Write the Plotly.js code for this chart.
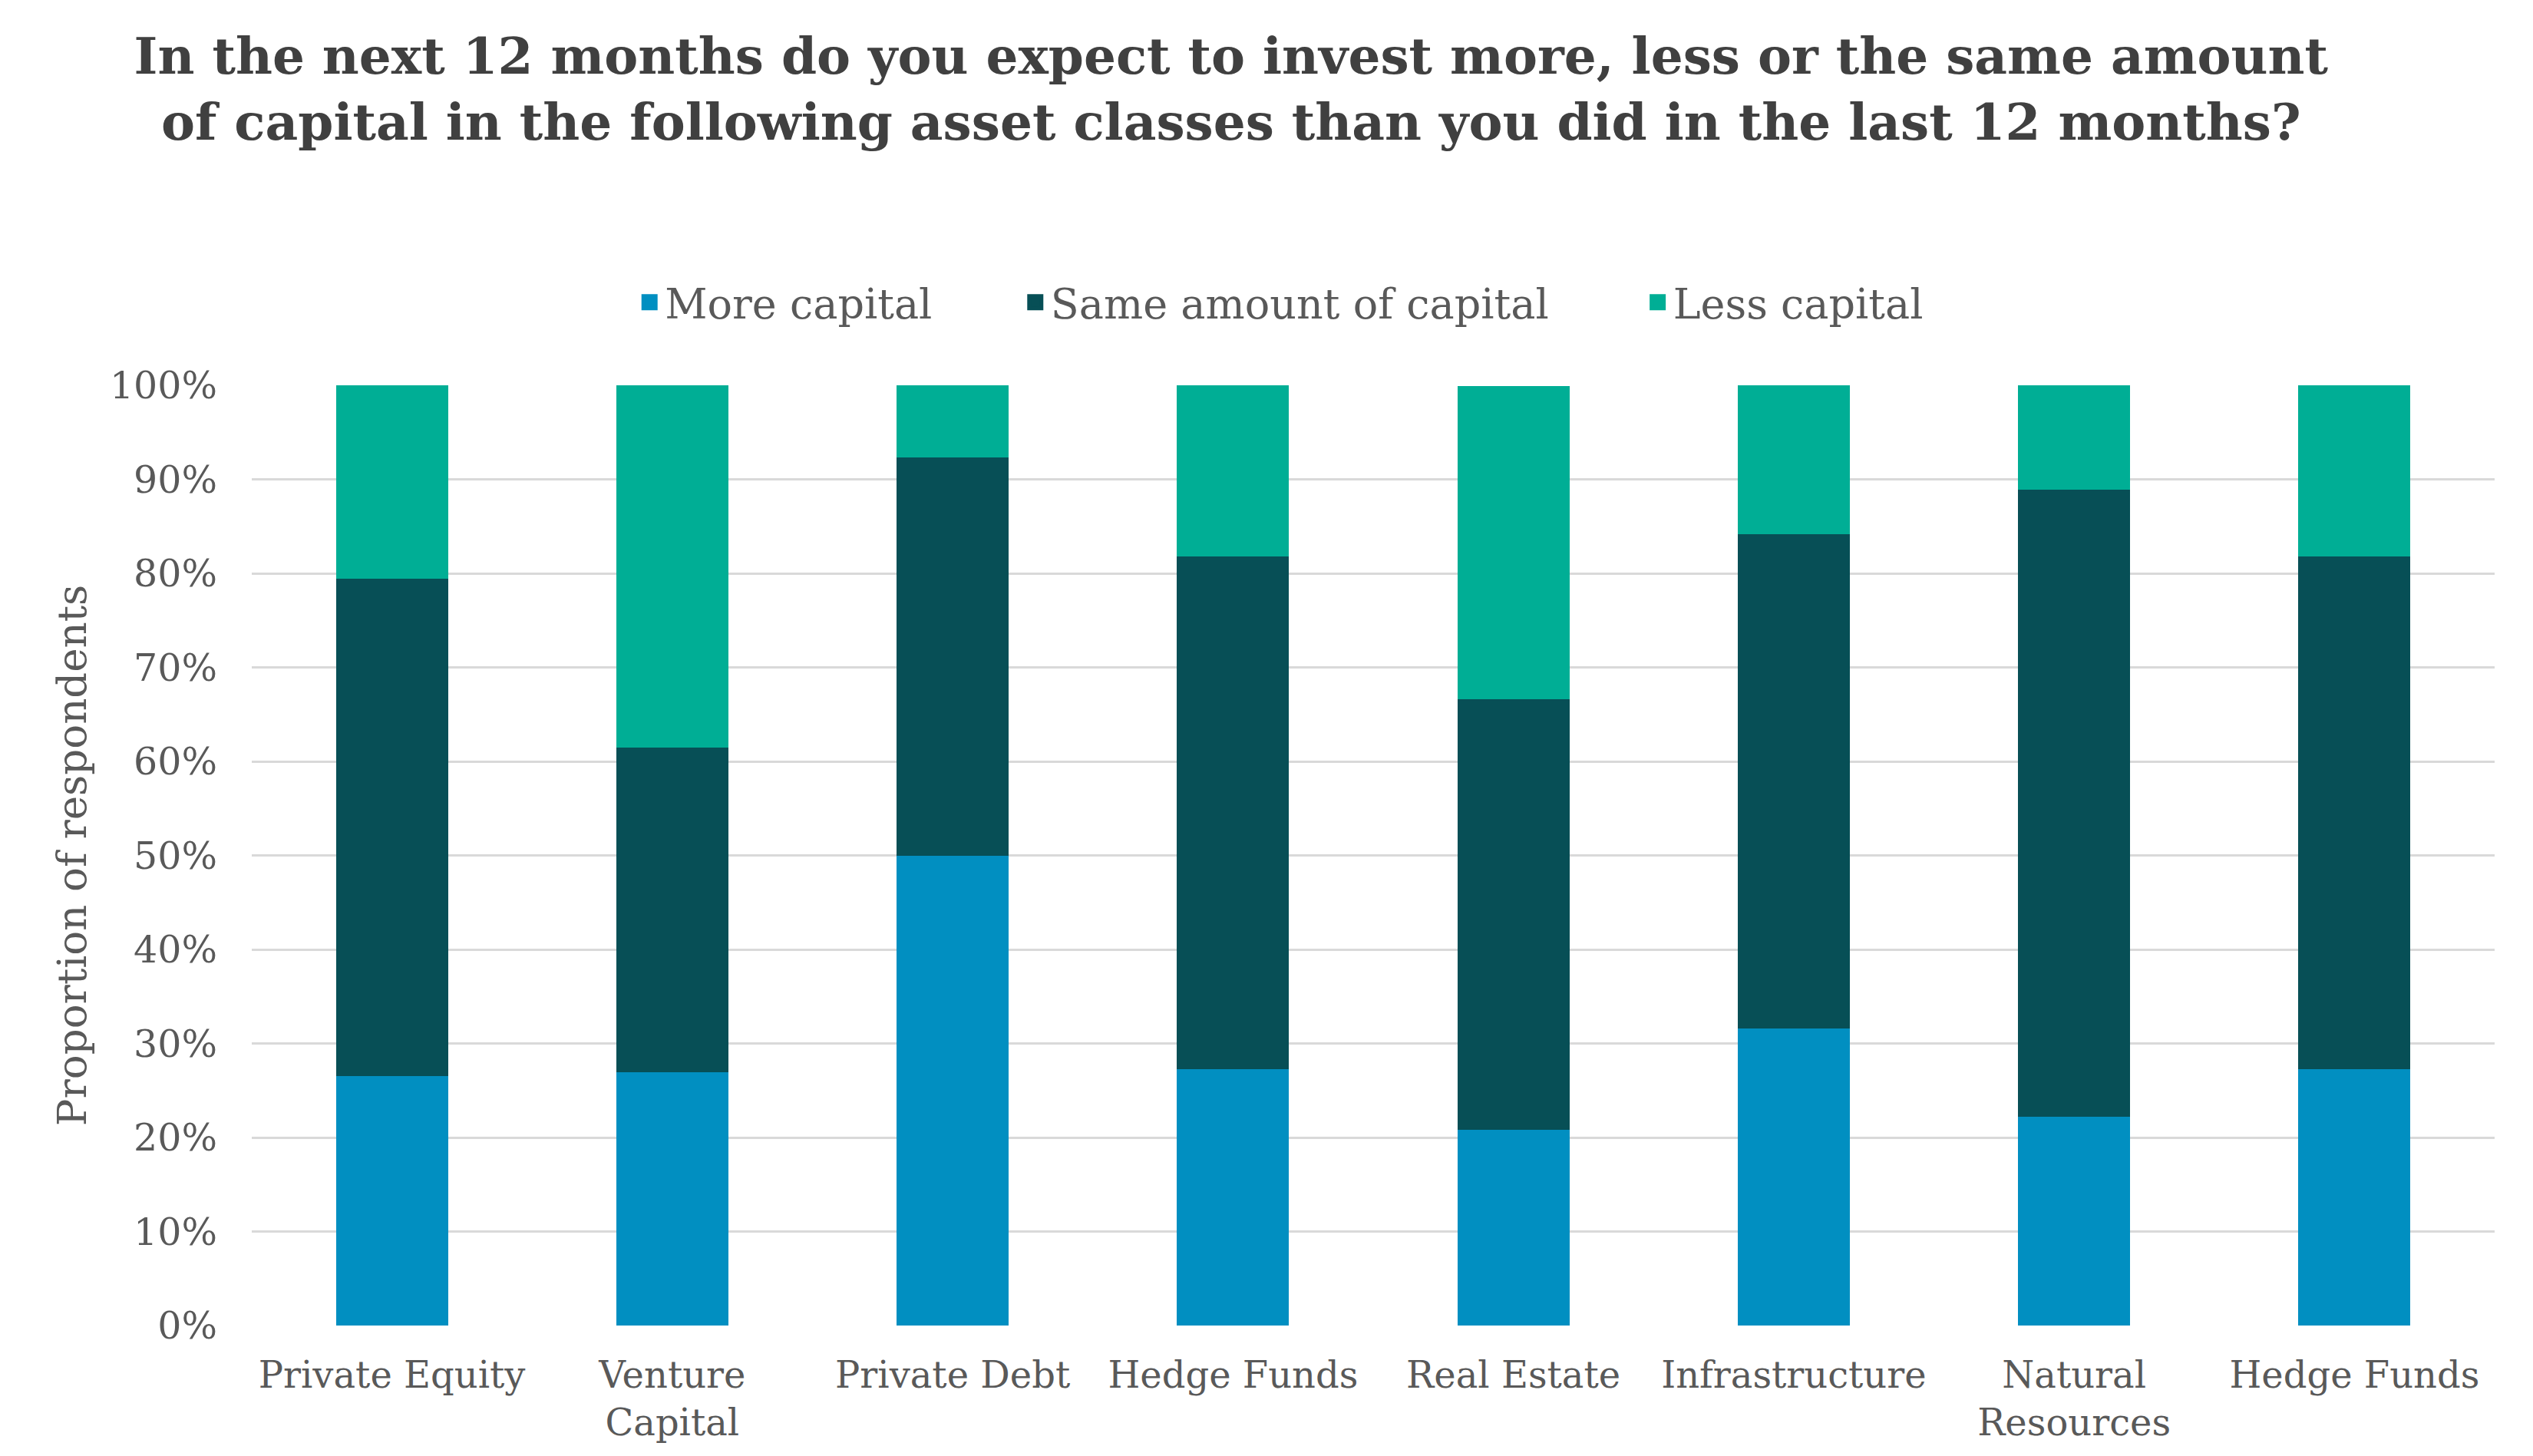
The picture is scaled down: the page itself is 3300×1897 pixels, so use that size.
<!DOCTYPE html>
<html><head><meta charset="utf-8">
<script src="https://cdn.plot.ly/plotly-3.0.1.min.js"></script>
<style>html,body{margin:0;padding:0;background:#fff;}#chart{width:3300px;height:1897px;}</style>
</head><body><div id="chart"></div>
<script>
const categories = ["Private Equity","Venture<br>Capital","Private Debt","Hedge Funds","Real Estate","Infrastructure","Natural<br>Resources","Hedge Funds"];
const moreCapital = [26.5, 26.9, 50.0, 27.3, 20.8, 31.6, 22.2, 27.3];
const sameCapital = [52.9, 34.6, 42.3, 54.5, 45.8, 52.6, 66.7, 54.5];
const lessCapital = [20.6, 38.5, 7.7, 18.2, 33.3, 15.8, 11.1, 18.2];
const seriesNames = ["More capital","Same amount of capital","Less capital"];
const seriesColors = ["#018FC1","#074F56","#00AE95"];
const yTickVals = [0,10,20,30,40,50,60,70,80,90,100];
const yTickText = ["0%","10%","20%","30%","40%","50%","60%","70%","80%","90%","100%"];

const xPos = categories.map((c,i)=>i);
const FONT = "DejaVu Serif";
const TXT = "#595959";
const legendIds = ["legend","legend2","legend3"];
const values = [moreCapital, sameCapital, lessCapital];
const data = [];
values.forEach((v,i)=>{
  data.push({type:"bar", name:seriesNames[i], x:xPos, y:v, showlegend:false, legendgroup:"g"+i,
    marker:{color:seriesColors[i], line:{width:0}}, hoverinfo:"skip"});
});
// legend swatches (no data drawn)
values.forEach((v,i)=>{
  data.push({type:"scatter", mode:"markers", name:seriesNames[i], x:[null], y:[null], legend:legendIds[i], legendgroup:"g"+i,
    marker:{symbol:"square", size:30, color:seriesColors[i], line:{width:16, color:seriesColors[i]}}, hoverinfo:"skip"});
});
const lgBase = {orientation:"h", y:1.088, yanchor:"middle", xanchor:"left", font:{size:54, color:TXT}, itemwidth:30, visible:true};
const layout = {
  width:3300, height:1897, autosize:false, showlegend:true,
  paper_bgcolor:"#fff", plot_bgcolor:"#fff",
  margin:{l:328, r:50, t:502, b:170},
  barmode:"stack", bargap:0.6,
  font:{family:FONT, color:TXT},
  title:{text:"In the next 12 months do you expect to invest more, less or the same amount<br>of capital in the following asset classes than you did in the last 12 months?",
    font:{family:FONT, size:66, color:"#404040", weight:"bold"}, xref:"container", x:0.486, xanchor:"center", yref:"container", y:1-96/1897, yanchor:"middle"},
  legend:Object.assign({}, lgBase, {x:0.1705}),
  legend2:Object.assign({}, lgBase, {x:0.3425}),
  legend3:Object.assign({}, lgBase, {x:0.6200}),
  xaxis:{tickmode:"array", tickvals:xPos, ticktext:categories, range:[-0.5,7.5], showgrid:false, zeroline:false,
    showline:false, ticks:"", tickfont:{size:48, color:TXT}, ticklabelstandoff:32},
  yaxis:{range:[0,100], tickmode:"array", tickvals:yTickVals, ticktext:yTickText, showgrid:true, gridcolor:"#D9D9D9", gridwidth:3,
    zeroline:false, showline:false, ticks:"", tickfont:{size:49, color:TXT}, ticklabelstandoff:44,
    title:{text:"Proportion of respondents", font:{size:53, color:TXT}, standoff:13}}
};
Plotly.newPlot("chart", data, layout, {staticPlot:true, displayModeBar:false});
</script></body></html>
